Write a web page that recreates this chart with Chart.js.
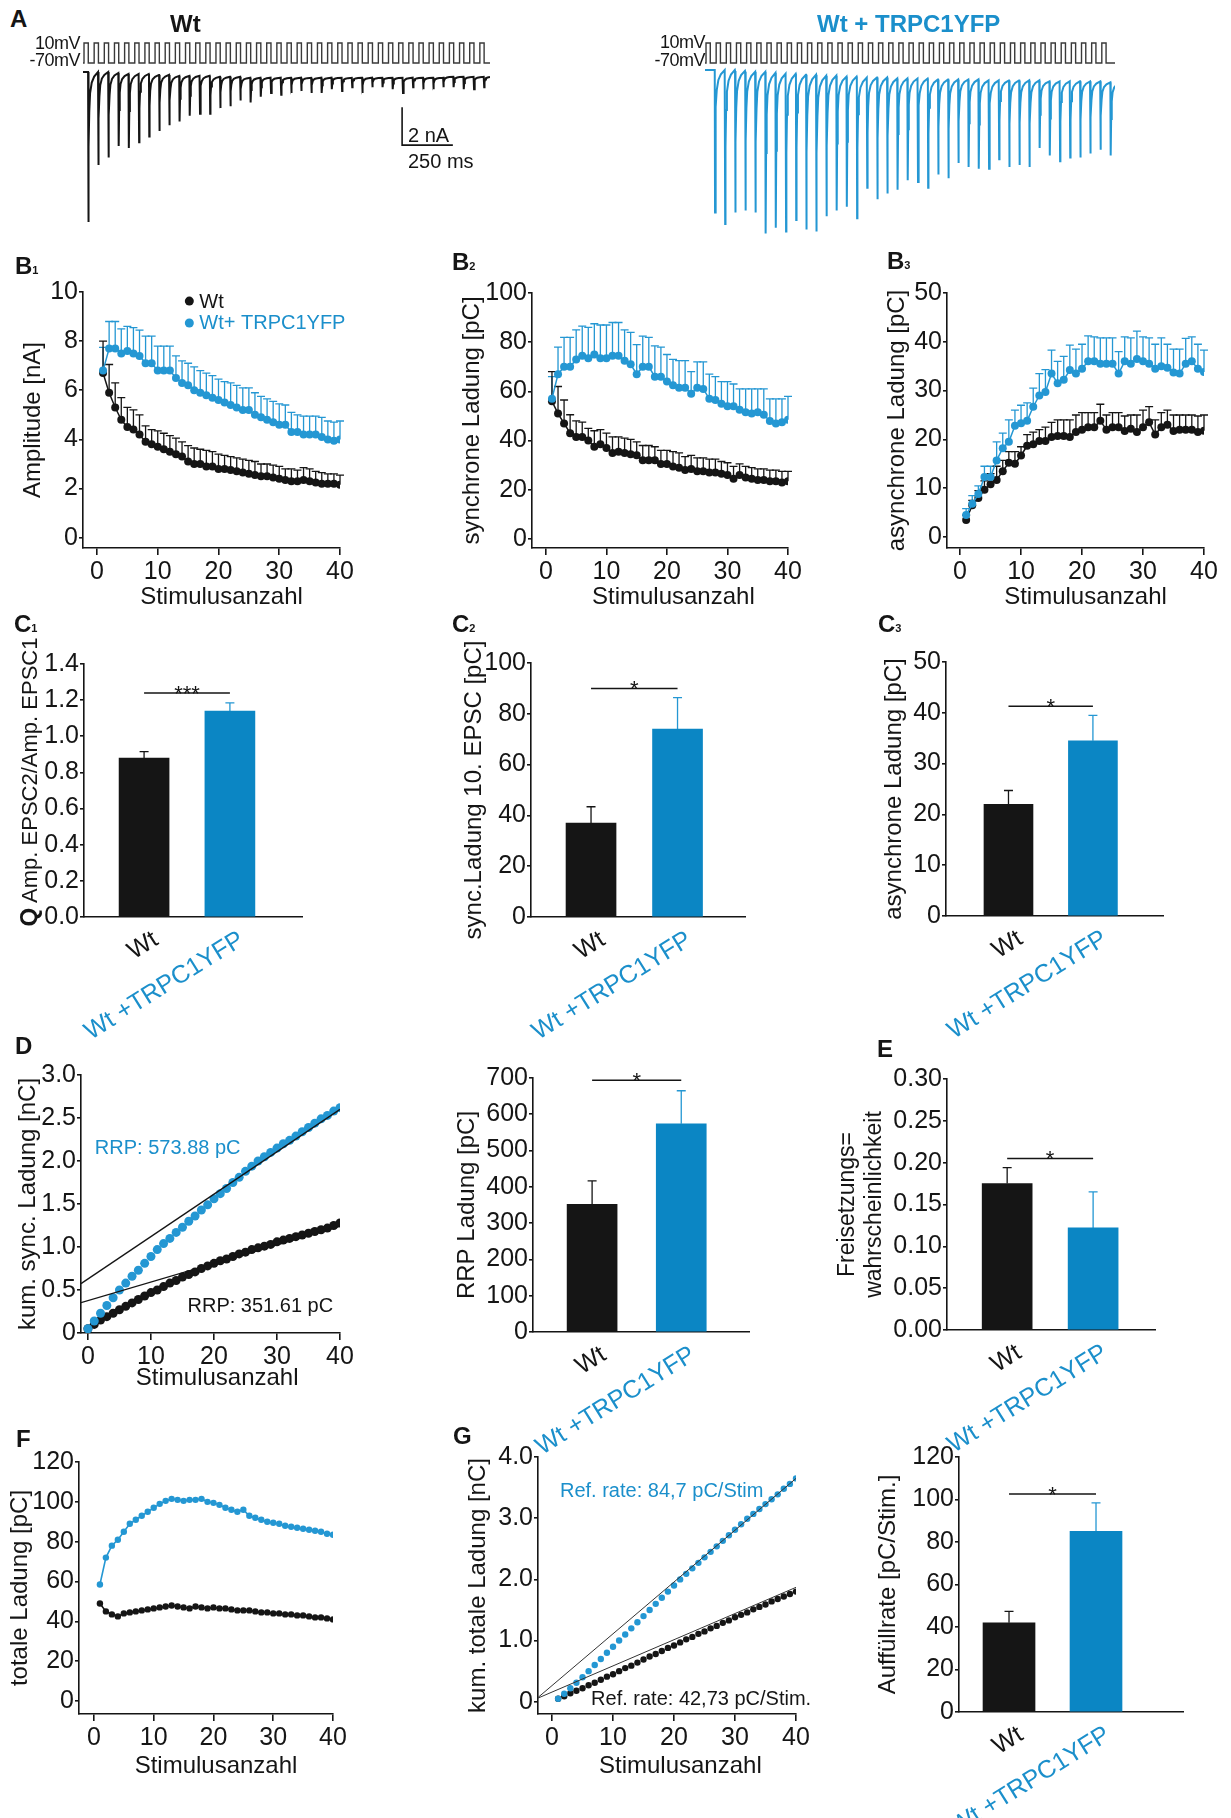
<!DOCTYPE html>
<html>
<head>
<meta charset="utf-8">
<title>EPSC-Zuege Wt / Wt + TRPC1YFP</title>
<script src="https://cdn.jsdelivr.net/npm/chart.js@4.4.1/dist/chart.umd.min.js"></script>
<style>
  body { margin: 0; background: #fff; }
  #page { position: relative; width: 1231px; height: 1818px; overflow: hidden;
          font-family: "Liberation Sans", Arial, Helvetica, sans-serif; color: #151515; }
  #page canvas { position: absolute; }
  .t { position: absolute; white-space: nowrap; line-height: 1; z-index: 5; }
  .p { font-weight: bold; font-size: 24px; }
  .p sub { font-size: 11px; vertical-align: baseline; }
  .mv { font-size: 18px; width: 60px; text-align: right; letter-spacing: -0.5px; }
</style>
</head>
<body>
<div id="page">
  <div class="t p" style="left:10px;top:7px">A</div>
  <div class="t p" style="left:170px;top:12px">Wt</div>
  <div class="t p" style="left:817px;top:12px;color:#1b8fcb">Wt + TRPC1YFP</div>
  <div class="t mv" style="left:20px;top:34px">10mV</div>
  <div class="t mv" style="left:20px;top:51px">-70mV</div>
  <div class="t mv" style="left:645px;top:33px">10mV</div>
  <div class="t mv" style="left:645px;top:51px">-70mV</div>
  <div class="t p" style="left:15px;top:254px">B<sub>1</sub></div>
  <div class="t p" style="left:452px;top:250px">B<sub>2</sub></div>
  <div class="t p" style="left:887px;top:249px">B<sub>3</sub></div>
  <div class="t p" style="left:14px;top:612px">C<sub>1</sub></div>
  <div class="t p" style="left:452px;top:612px">C<sub>2</sub></div>
  <div class="t p" style="left:878px;top:612px">C<sub>3</sub></div>
  <div class="t p" style="left:15px;top:1034px">D</div>
  <div class="t p" style="left:877px;top:1037px">E</div>
  <div class="t p" style="left:16px;top:1427px">F</div>
  <div class="t p" style="left:453px;top:1424px">G</div>
  <div class="t" style="left:-116px;top:769px;width:290px;height:26px;line-height:26px;text-align:center;font-size:22px;transform:rotate(-90deg)"><b style="font-size:24px">Q</b> Amp. EPSC2/Amp. EPSC1</div>
</div>
<script>
// ---------- data ----------
const stimulus = Array.from({length: 40}, (_, i) => i + 1);
const stimulusD = Array.from({length: 41}, (_, i) => i);
const stimTicks = [0, 10, 20, 30, 40];
const groups = ['Wt', 'Wt +TRPC1YFP'];
const groupIndex = [1, 2];
const legendLabels = ['Wt', 'Wt+ TRPC1YFP'];

// A: example traces, EPSC peak [nA] and level between pulses [nA]
const traceWt = [7.9,4.9,4.5,3.9,4.0,3.7,3.4,3.1,2.8,2.6,2.3,2.2,2.2,1.9,1.8,1.5,1.6,1.3,1.1,1.2,
                 1.1,1.0,1.1,1.1,0.9,1.0,0.8,1.1,0.8,0.8,0.9,1.1,0.8,0.9,0.9,0.8,0.8,0.9,0.9,0.8];
const traceWtRest = [0,0,0.05,0.1,0.1,0.1,0.15,0.15,0.2,0.2,0.2,0.2,0.25,0.25,0.25,0.3,0.3,0.3,0.3,0.3,
                     0.3,0.3,0.3,0.3,0.3,0.3,0.3,0.3,0.3,0.3,0.3,0.3,0.3,0.3,0.3,0.25,0.25,0.25,0.25,0.25];
const traceTrpc = [7.5,8.1,7.5,7.4,7.5,8.6,8.3,8.5,7.9,8.4,8.5,7.7,7.4,7.2,7.8,6.2,6.8,6.5,6.3,5.8,
                   5.9,6.2,5.5,5.7,4.9,5.1,5.2,5.2,4.7,5.1,5.0,5.1,4.1,4.5,4.8,4.6,4.6,4.4,4.2,4.5];
const traceTrpcRest = [0,0,0.05,0.1,0.1,0.15,0.2,0.2,0.25,0.25,0.3,0.3,0.35,0.35,0.4,0.4,0.4,0.45,0.45,0.45,
                       0.45,0.5,0.5,0.5,0.5,0.5,0.55,0.55,0.55,0.55,0.55,0.55,0.6,0.6,0.6,0.6,0.6,0.6,0.65,0.65];
const stepLevels = [-70, 10];   // mV
const scaleBar = {nA: 2, ms: 250};

// B1 amplitude [nA]
const b1Wt = [6.7,5.9,5.3,4.8,4.5,4.4,4.2,3.9,3.8,3.7,3.6,3.5,3.4,3.3,3.1,3.0,3.0,2.9,2.9,2.8,
              2.8,2.75,2.7,2.65,2.6,2.55,2.5,2.5,2.45,2.4,2.35,2.3,2.3,2.35,2.3,2.25,2.2,2.2,2.2,2.15];
const b1WtErr = [1.3,1.15,1.0,0.9,0.8,0.8,0.8,0.65,0.6,0.65,0.65,0.65,0.65,0.6,0.65,0.65,0.6,0.65,0.6,0.6,
                 0.55,0.55,0.55,0.55,0.55,0.55,0.5,0.5,0.5,0.5,0.45,0.5,0.45,0.5,0.5,0.45,0.45,0.4,0.4,0.4];
const b1Trpc = [6.8,7.7,7.7,7.5,7.6,7.5,7.4,7.1,7.1,6.8,6.8,6.8,6.5,6.3,6.2,6.0,5.9,5.8,5.7,5.6,
                5.5,5.4,5.3,5.2,5.2,5.0,4.9,4.8,4.7,4.6,4.6,4.3,4.3,4.2,4.2,4.2,4.1,4.0,3.95,4.0];
const b1TrpcErr = [0.95,1.1,1.1,1.0,1.0,1.05,1.05,1.1,1.1,1.0,1.0,1.0,0.9,0.9,0.9,0.95,0.9,0.9,0.9,0.85,
                   0.85,0.9,0.9,0.9,0.9,0.9,0.85,0.85,0.85,0.85,0.8,0.8,0.7,0.75,0.75,0.75,0.8,0.75,0.75,0.75];

// B2 synchronous charge [pC]
const b2Wt = [56,51,47,43,41.5,41.5,40,37.5,38.5,37,35,35.5,35,34.5,34,32,32,32,30.5,30.5,
              29.5,29,28,28.5,27.5,27.5,27,27,26.5,26,24.5,26,25,24.5,24,24,23.5,23.5,23,23.5];
const b2WtErr = [12,11,9.5,7.5,6.5,6,5,6.5,6,6,6.5,6,6,6,5.5,6,6,5.5,5.5,5.5,
                 6,6,5.5,5.5,5.5,5.5,5.5,5.5,5,5,5,4.5,4.5,4.5,4.5,4.5,4.5,4.5,4.5,4];
const b2Trpc = [57,67,70,70,73,74.5,73.5,75,73.5,73.5,74.5,74.5,72.5,71,67,70,70,66,66,64,
                62.5,61.5,61.5,59,61.5,61,57,56.5,55,54,54,52.5,51.5,51,51.5,50.5,48,47,47.5,48.5];
const b2TrpcErr = [9,11,12,12,12,12,12.5,12.5,13.5,13.5,13.5,13.5,12.5,13,12,12.5,12,12.5,12,11,
                   10.5,11,11,9,10.5,11,10,9.5,9,10,9,8.5,9.5,10,9.5,10.5,9,10,9.5,9.5];

// B3 asynchronous charge [pC]
const b3Wt = [3.5,6.5,8,9.7,10.8,11.7,13.5,15.2,15,16.7,18.7,19,19.7,19.7,20.5,20.7,20.7,20.5,21.5,22,
              22.5,22.5,23.8,22,22.5,22.5,21.7,22.2,21.5,22.5,23.5,21,22.5,23,21.7,22,22,22,21.5,21.8];
const b3WtErr = [1,1,1.5,1.8,2.2,2.8,2.2,2.3,2.5,1.8,2.3,2.5,2.3,2.8,3,3.3,3.3,3.5,3.5,3.5,
                 3,3,3.4,3,3,3,3.1,2.8,3.5,3.5,3.2,3,3,3,3.3,3,3,3,3.3,3.2];
const b3Trpc = [4.5,6.8,8.8,12.3,12.3,15.7,18.2,19.5,22.8,23.3,23.8,26.7,29,29.7,33.5,31.5,32.2,34.2,33.5,34.5,
                36,36,35.5,35.5,35.5,33.5,36,35.5,36.5,36,35.5,34.5,35,34.7,33.7,33.5,35.5,36,34.5,33.8];
const b3TrpcErr = [1.3,1.7,1.7,2.2,2.2,3.8,3.1,4.5,3.2,3.7,3.7,3.8,4.5,4.6,4.8,4.5,4.8,5.1,5,5,
                   5.2,5,5.3,5.3,5.3,4.5,5,5.3,5.7,5,5.3,5,5.8,4.8,4.8,5,5.2,5,5,4.5];

// C / E / refill bar values [Wt, Wt+TRPC1YFP] and SEM
const c1Ratio = [0.88, 1.14],  c1Err = [0.035, 0.045];
const c2Sync10 = [37, 74],     c2Err = [6.4, 12.4];
const c3Async = [22, 34.5],    c3Err = [2.7, 5.0];
const rrpCharge = [351.61, 573.88], rrpErr = [65, 91];
const releaseProb = [0.175, 0.122], releaseErr = [0.019, 0.043];
const refillRate = [42, 85],   refillErr = [5.4, 13.4];

// D cumulative synchronous charge [nC], stimulus 0..40
const dWt = [0.05,0.10,0.15,0.19,0.23,0.27,0.31,0.35,0.39,0.43,0.47,0.50,0.54,0.58,0.61,0.65,0.68,0.71,0.75,0.78,
             0.81,0.84,0.86,0.89,0.92,0.94,0.97,0.99,1.01,1.03,1.06,1.08,1.10,1.12,1.14,1.16,1.18,1.20,1.22,1.25,1.28];
const dTrpc = [0.05,0.14,0.23,0.32,0.41,0.50,0.58,0.66,0.73,0.81,0.89,0.97,1.04,1.10,1.17,1.23,1.30,1.36,1.43,1.49,
               1.56,1.62,1.68,1.75,1.81,1.88,1.94,2.00,2.05,2.10,2.15,2.20,2.24,2.29,2.34,2.39,2.44,2.49,2.53,2.58,2.62];
const dFitWt = [0.352, 1.24];     // nC at axis and at stimulus 40
const dFitTrpc = [0.574, 2.60];

// F total charge [pC]
const fWt = [49,45,43.5,42.5,44,44.5,45,45.5,46,46.5,47,47.5,48,47.5,47,46.5,47.5,47,46.5,47,
             46.5,46.5,46,45.5,45.5,45.5,45,44.5,44.5,44,44,43.5,43.5,43,43,42.5,42,42,41.5,41];
const fTrpc = [58.5,72,78,81,85,89,91,93,95,97,99,100.5,101.5,101,100.5,101,101,101.5,100,99.5,
               98.5,97,96,95,96,93,92,91,90,89.5,89,88,87.5,87,86.5,86,85.5,85,84,83.5];

// G cumulative total charge [nC]
const gWt = [0.05,0.09,0.14,0.18,0.22,0.27,0.31,0.36,0.41,0.45,0.50,0.55,0.59,0.64,0.69,0.74,0.78,0.83,0.88,0.92,
             0.97,1.02,1.06,1.11,1.15,1.20,1.24,1.29,1.33,1.38,1.42,1.46,1.51,1.55,1.59,1.64,1.68,1.72,1.76,1.80];
const gTrpc = [0.05,0.13,0.22,0.31,0.40,0.50,0.60,0.70,0.80,0.90,1.00,1.10,1.20,1.30,1.40,1.50,1.60,1.70,1.80,1.90,
               2.00,2.09,2.18,2.27,2.36,2.45,2.54,2.63,2.72,2.81,2.90,2.99,3.07,3.15,3.23,3.31,3.39,3.48,3.56,3.65];
const gFitWt = [0.06, 1.87];
const gFitTrpc = [0.07, 3.65];

// ---------- style ----------
const INK = '#151515';
const BLUE = '#2497d3';
const BLUE_BAR = '#0b86c4';
const BLUE_TXT = '#1b8fcb';
const FONT = '"Liberation Sans", Arial, Helvetica, sans-serif';
const TICK = 25;    // tick label size
const TITLE = 24;   // axis title size
Chart.defaults.font.family = FONT;
Chart.defaults.color = INK;

// error bars, significance bars, free text and legend
const extras = {
  id: 'extras',
  beforeDatasetsDraw(chart) {
    const ctx = chart.ctx;
    chart.data.datasets.forEach((ds, di) => {
      if (!ds.errors) return;
      const meta = chart.getDatasetMeta(di);
      ctx.save();
      ctx.lineWidth = 1.3;
      meta.data.forEach((el, i) => {
        const raw = ds.data[i];
        const v = typeof raw === 'number' ? raw : raw.y;
        const yTop = meta.yScale.getPixelForValue(v + ds.errors[i]);
        const yv = meta.yScale.getPixelForValue(v);
        const hw = ds.capWidth / 2;
        ctx.strokeStyle = Array.isArray(ds.errorColor) ? ds.errorColor[i] : ds.errorColor;
        ctx.beginPath();
        ctx.moveTo(el.x, yv); ctx.lineTo(el.x, yTop);
        ctx.moveTo(el.x - hw, yTop); ctx.lineTo(el.x + hw, yTop);
        ctx.stroke();
      });
      ctx.restore();
    });
  },
  afterDatasetsDraw(chart) {
    const o = chart.canvas.extras || {};
    const {ctx} = chart;
    const x = chart.scales.x, y = chart.scales.y;
    ctx.save();
    if (o.sig) {
      const x1 = x.getPixelForValue(groupIndex[0]), x2 = x.getPixelForValue(groupIndex[1]);
      const yy = y.getPixelForValue(o.sig.level);
      ctx.strokeStyle = INK; ctx.lineWidth = 1.5;
      ctx.beginPath(); ctx.moveTo(x1, yy); ctx.lineTo(x2, yy); ctx.stroke();
      ctx.fillStyle = INK; ctx.font = '22px ' + FONT;
      ctx.textAlign = 'center'; ctx.textBaseline = 'alphabetic';
      ctx.fillText(o.sig.text, (x1 + x2) / 2, yy + 8);
    }
    (o.texts || []).forEach(t => {
      const ys = chart.scales[t.axis || 'y'];
      ctx.fillStyle = t.color || INK;
      ctx.font = (t.size || 20) + 'px ' + FONT;
      ctx.textAlign = 'left'; ctx.textBaseline = 'middle';
      ctx.fillText(t.text, x.getPixelForValue(t.x), ys.getPixelForValue(t.y));
    });
    if (o.legend) {
      const lg = o.legend;
      lg.items.forEach((it, i) => {
        const px = x.getPixelForValue(lg.x), py = y.getPixelForValue(lg.ys[i]);
        ctx.fillStyle = it.color;
        ctx.beginPath(); ctx.arc(px, py, 4.5, 0, Math.PI * 2); ctx.fill();
        ctx.fillStyle = it.textColor;
        ctx.font = '20px ' + FONT; ctx.textAlign = 'left'; ctx.textBaseline = 'middle';
        ctx.fillText(it.label, px + 10, py + 1);
      });
    }
    ctx.restore();
  }
};
Chart.register(extras);

// ---------- helpers ----------
function mkCanvas(box) {
  const c = document.createElement('canvas');
  c.width = box.w; c.height = box.h;
  c.style.left = box.x + 'px'; c.style.top = box.y + 'px';
  c.style.width = box.w + 'px'; c.style.height = box.h + 'px';
  document.getElementById('page').appendChild(c);
  return c;
}

function frame(box, area) {
  return {
    pad: {left: 0, top: area.t - box.y, right: box.x + box.w - area.r, bottom: 0},
    yW: area.l - box.x,
    xH: box.y + box.h - area.b
  };
}

function yAxis(box, area, c) {
  const fr = frame(box, area);
  const fs = c.titleSize || TITLE, lh = c.titleLH || 1.2;
  return {
    type: 'linear', position: 'left', min: c.min, max: c.max,
    afterBuildTicks: s => { s.ticks = c.ticks.map(v => ({value: v})); },
    afterFit: s => { s.width = fr.yW; },
    border: {display: true, color: INK, width: 1.6},
    grid: {display: true, drawOnChartArea: false, drawTicks: true, tickLength: 4, color: INK, lineWidth: 1.6},
    ticks: {font: {size: TICK}, color: INK, padding: 1, callback: c.fmt || (v => String(v))},
    title: {display: !!c.title, text: c.title, color: INK, font: {size: fs, lineHeight: lh},
            padding: {top: c.titleX ? c.titleX - box.x - fs * lh / 2 : 0, bottom: 0}}
  };
}

function xNum(box, area, c) {
  const fr = frame(box, area);
  return {
    type: 'linear', position: 'bottom', min: c.min, max: c.max,
    afterBuildTicks: s => { s.ticks = stimTicks.map(v => ({value: v})); },
    afterFit: s => { s.height = fr.xH; },
    border: {display: true, color: INK, width: 1.6},
    grid: {display: true, drawOnChartArea: false, drawTicks: true, tickLength: 7, color: INK, lineWidth: 1.6},
    ticks: {font: {size: TICK}, color: INK, padding: 2, minRotation: 0, maxRotation: 0, autoSkip: false},
    title: {display: true, text: c.title, color: INK, font: {size: TITLE},
            padding: {top: 0, bottom: box.y + box.h - TITLE * 0.6 - c.titleY}}
  };
}

function xBar(box, area, c) {
  const fr = frame(box, area);
  return {
    type: 'linear', position: 'bottom', min: c.min, max: c.max, offset: false,
    afterBuildTicks: s => { s.ticks = groupIndex.map(v => ({value: v})); },
    afterFit: s => { s.height = fr.xH; },
    border: {display: true, color: INK, width: 1.6},
    grid: {display: false, drawTicks: false},
    ticks: {font: {size: 25}, autoSkip: false, minRotation: 32, maxRotation: 32, padding: 8, labelOffset: 12,
            color: ctx => ctx.index === 0 ? INK : BLUE_TXT, callback: (v, i) => groups[i]}
  };
}

function pts(xs, ys) { return ys.map((v, i) => ({x: xs[i], y: v})); }

function series(xs, ys, color, extra) {
  return Object.assign({
    data: pts(xs, ys), borderColor: color, backgroundColor: color, pointBackgroundColor: color,
    pointBorderWidth: 0, pointRadius: 4, borderWidth: 1.5, showLine: true
  }, extra);
}

function makeChart(box, area, type, datasets, scales, extraCfg) {
  const cv = mkCanvas(box);
  cv.extras = extraCfg || {};
  return new Chart(cv, {
    type, data: {datasets},
    options: {
      responsive: false, animation: false, devicePixelRatio: 1, events: [],
      layout: {padding: frame(box, area).pad, autoPadding: false},
      plugins: {legend: {display: false}, tooltip: {enabled: false}},
      scales
    }
  });
}

function barChart(box, area, values, errors, yc, xc, sig) {
  const ds = {
    data: pts(groupIndex, values), backgroundColor: [INK, BLUE_BAR], borderWidth: 0,
    barThickness: xc.bar,
    errors, errorColor: [INK, BLUE], capWidth: 9
  };
  return makeChart(box, area, 'bar', [ds], {x: xBar(box, area, xc), y: yAxis(box, area, yc)}, {sig});
}

// ---------- A: example traces ----------
const PERIOD = 50;                       // ms, 20 Hz train
const STEP_ON = 5, STEP_OFF = 26;        // ms within each period
const SHAPE_T = [0, 1.5, 3, 6, 10, 18, 30, 49];
const SHAPE_F = [0, 1, 0.5, 0.26, 0.14, 0.07, 0.03, 0];

function stepPoints(n, tMax) {
  const p = [{x: 0, y: stepLevels[0]}];
  for (let i = 0; i < n; i++) {
    const t = i * PERIOD;
    p.push({x: t + STEP_ON, y: stepLevels[0]}, {x: t + STEP_ON, y: stepLevels[1]},
           {x: t + STEP_OFF, y: stepLevels[1]}, {x: t + STEP_OFF, y: stepLevels[0]});
  }
  p.push({x: tMax, y: stepLevels[0]});
  return p;
}

function tracePoints(peaks, rest, spikeAt) {
  const p = [{x: 0, y: 0}];
  peaks.forEach((pk, i) => {
    const t0 = i * PERIOD + spikeAt;
    SHAPE_T.forEach((dt, k) => p.push({x: t0 + dt, y: -(rest[i] + (pk - rest[i]) * SHAPE_F[k])}));
  });
  return p;
}

function traceChart(box, c) {
  const cv = mkCanvas(box);
  cv.extras = {texts: c.texts || []};
  const ds = [
    {data: stepPoints(traceWt.length, c.tMax), yAxisID: 'v', borderColor: '#3a3a3a', borderWidth: 1.4, pointRadius: 0},
    {data: tracePoints(c.peaks, c.rest, c.spikeAt), yAxisID: 'y', borderColor: c.color, borderWidth: 2, pointRadius: 0}
  ];
  if (c.bar) {
    const b = c.bar;
    ds.push({data: [{x: b.t, y: b.i}, {x: b.t, y: b.i - scaleBar.nA}, {x: b.t + scaleBar.ms, y: b.i - scaleBar.nA}],
             yAxisID: 'y', borderColor: INK, borderWidth: 1.6, pointRadius: 0});
  }
  return new Chart(cv, {
    type: 'line', data: {datasets: ds},
    options: {
      responsive: false, animation: false, devicePixelRatio: 1, events: [],
      layout: {padding: 0, autoPadding: false},
      plugins: {legend: {display: false}, tooltip: {enabled: false}},
      scales: {
        x: {type: 'linear', display: false, min: 0, max: c.tMax},
        y: {type: 'linear', display: false, min: c.yMin, max: c.yMax},
        v: {type: 'linear', display: false, min: c.vMin, max: 42}
      }
    }
  });
}

traceChart({x: 83, y: 35, w: 407, h: 200}, {
  peaks: traceWt, rest: traceWtRest, spikeAt: 25, color: INK, tMax: 2005,
  yMin: -8.58, yMax: 1.95, vMin: -758,
  bar: {t: 1572, i: -1.85},
  texts: [{x: 1601, y: -3.37, text: '2 nA', size: 20}, {x: 1601, y: -4.74, text: '250 ms', size: 20}]
});
traceChart({x: 705, y: 35, w: 410, h: 210}, {
  peaks: traceTrpc, rest: traceTrpcRest, spikeAt: 48, color: BLUE, tMax: 2020,
  yMin: -9.21, yMax: 1.84, vMin: -798
});

// ---------- B ----------
function bPanel(box, area, wt, wtErr, tr, trErr, yc, xc, extraCfg) {
  const ds = [
    series(stimulus, tr, BLUE, {errors: trErr, errorColor: BLUE, capWidth: 8, order: 1}),
    series(stimulus, wt, INK, {errors: wtErr, errorColor: INK, capWidth: 8, order: 2})
  ];
  return makeChart(box, area, 'line', ds, {x: xNum(box, area, xc), y: yAxis(box, area, yc)}, extraCfg);
}

{
  const box = {x: 0, y: 270, w: 370, h: 345}, area = {l: 83, t: 292, r: 340, b: 548};
  bPanel(box, area, b1Wt, b1WtErr, b1Trpc, b1TrpcErr,
    {min: -0.42, max: 10, ticks: [0, 2, 4, 6, 8, 10], title: 'Amplitude [nA]', titleX: 33},
    {min: -2.3, max: 40, title: '   Stimulusanzahl', titleY: 597},
    {legend: {x: 15.2, ys: [9.63, 8.74], items: [
      {label: legendLabels[0], color: INK, textColor: INK},
      {label: legendLabels[1], color: BLUE, textColor: BLUE_TXT}]}});
}
{
  const box = {x: 440, y: 270, w: 375, h: 345}, area = {l: 532, t: 293, r: 788, b: 548};
  bPanel(box, area, b2Wt, b2WtErr, b2Trpc, b2TrpcErr,
    {min: -3.66, max: 100, ticks: [0, 20, 40, 60, 80, 100], title: 'synchrone Ladung [pC]', titleX: 472},
    {min: -2.3, max: 40, title: '    Stimulusanzahl', titleY: 597});
}
{
  const box = {x: 860, y: 270, w: 371, h: 345}, area = {l: 947, t: 293, r: 1204, b: 548};
  bPanel(box, area, b3Wt, b3WtErr, b3Trpc, b3TrpcErr,
    {min: -2.25, max: 50, ticks: [0, 10, 20, 30, 40, 50], title: 'asynchrone Ladung [pC]', titleX: 897},
    {min: -2.14, max: 40, title: '   Stimulusanzahl', titleY: 597});
}

// ---------- C ----------
const f1 = v => v.toFixed(1);
barChart({x: 0, y: 640, w: 330, h: 400}, {l: 84, t: 664, r: 302, b: 917}, c1Ratio, c1Err,
  {min: 0, max: 1.4, ticks: [0, 0.2, 0.4, 0.6, 0.8, 1.0, 1.2, 1.4], fmt: f1},
  {min: 0.30, max: 2.84, bar: 50}, {level: 1.24, text: '***'});
barChart({x: 440, y: 640, w: 330, h: 400}, {l: 531, t: 663, r: 745, b: 917}, c2Sync10, c2Err,
  {min: 0, max: 100, ticks: [0, 20, 40, 60, 80, 100], title: 'sync.Ladung 10. EPSC [pC]', titleX: 474},
  {min: 0.306, max: 2.78, bar: 50}, {level: 90, text: '*'});
barChart({x: 860, y: 640, w: 371, h: 400}, {l: 946, t: 662, r: 1163, b: 916}, c3Async, c3Err,
  {min: 0, max: 50, ticks: [0, 10, 20, 30, 40, 50], title: 'asynchrone Ladung [pC]', titleX: 894},
  {min: 0.26, max: 2.83, bar: 49}, {level: 41.3, text: '*'});

// ---------- D ----------
{
  const box = {x: 0, y: 1050, w: 370, h: 350}, area = {l: 81, t: 1075, r: 340, b: 1333};
  const xMin = -1.1;
  const ds = [
    {data: [{x: xMin, y: dFitTrpc[0]}, {x: 40, y: dFitTrpc[1]}], borderColor: INK, borderWidth: 1.3, pointRadius: 0, order: 0},
    {data: [{x: xMin, y: dFitWt[0]}, {x: 40, y: dFitWt[1]}], borderColor: INK, borderWidth: 1.3, pointRadius: 0, order: 0},
    series(stimulusD, dTrpc, BLUE, {showLine: false, pointRadius: 4.5, order: 1}),
    series(stimulusD, dWt, INK, {showLine: false, pointRadius: 4.5, order: 2})
  ];
  makeChart(box, area, 'line', ds, {
    x: xNum(box, area, {min: xMin, max: 40, title: '  Stimulusanzahl', titleY: 1378}),
    y: yAxis(box, area, {min: 0, max: 3, ticks: [0, 0.5, 1, 1.5, 2, 2.5, 3],
      fmt: v => v === 0 ? '0' : v.toFixed(1), title: 'kum. sync. Ladung [nC]', titleX: 28})
  }, {texts: [
    {x: 1.1, y: 2.14, text: 'RRP: ' + rrpCharge[1].toFixed(2) + ' pC', color: BLUE_TXT, size: 20},
    {x: 15.8, y: 0.31, text: 'RRP: ' + rrpCharge[0].toFixed(2) + ' pC', color: INK, size: 20}
  ]});
}

barChart({x: 440, y: 1050, w: 340, h: 412}, {l: 533, t: 1078, r: 749, b: 1332}, rrpCharge, rrpErr,
  {min: 0, max: 700, ticks: [0, 100, 200, 300, 400, 500, 600, 700], title: 'RRP Ladung [pC]', titleX: 467},
  {min: 0.337, max: 2.76, bar: 50}, {level: 694, text: '*'});

// ---------- E ----------
barChart({x: 830, y: 1050, w: 370, h: 412}, {l: 947, t: 1079, r: 1155, b: 1330}, releaseProb, releaseErr,
  {min: 0, max: 0.3, ticks: [0, 0.05, 0.1, 0.15, 0.2, 0.25, 0.3], fmt: v => v.toFixed(2),
   title: ['Freisetzungs=', 'wahrscheinlichkeit'], titleX: 848, titleSize: 23, titleLH: 1.17},
  {min: 0.30, max: 2.72, bar: 50}, {level: 0.205, text: '*'});

// ---------- F ----------
{
  const box = {x: 0, y: 1440, w: 370, h: 350}, area = {l: 79, t: 1462, r: 333, b: 1714};
  const ds = [
    series(stimulus, fTrpc, BLUE, {pointRadius: 3.2, borderWidth: 1.6, order: 1}),
    series(stimulus, fWt, INK, {pointRadius: 3.2, borderWidth: 1.6, order: 2})
  ];
  makeChart(box, area, 'line', ds, {
    x: xNum(box, area, {min: -2.5, max: 40, title: '   Stimulusanzahl', titleY: 1766}),
    y: yAxis(box, area, {min: -6.5, max: 120, ticks: [0, 20, 40, 60, 80, 100, 120], title: 'totale Ladung [pC]', titleX: 20})
  });
}

// ---------- G ----------
{
  const box = {x: 440, y: 1440, w: 380, h: 350}, area = {l: 538, t: 1457, r: 796, b: 1714};
  const xMin = -2.3;
  const ds = [
    {data: [{x: xMin, y: gFitTrpc[0]}, {x: 40, y: gFitTrpc[1]}], borderColor: '#333', borderWidth: 1, pointRadius: 0, order: 0},
    {data: [{x: xMin, y: gFitWt[0]}, {x: 40, y: gFitWt[1]}], borderColor: '#333', borderWidth: 1, pointRadius: 0, order: 0},
    series(stimulus, gTrpc, BLUE, {showLine: false, pointRadius: 3.2, order: 1}),
    series(stimulus, gWt, INK, {showLine: false, pointRadius: 3.2, order: 2})
  ];
  makeChart(box, area, 'line', ds, {
    x: xNum(box, area, {min: xMin, max: 40, title: '    Stimulusanzahl', titleY: 1766}),
    y: yAxis(box, area, {min: -0.2, max: 4, ticks: [0, 1, 2, 3, 4],
      fmt: v => v === 0 ? '0' : v.toFixed(1), title: 'kum. totale Ladung [nC]', titleX: 478})
  }, {texts: [
    {x: 1.3, y: 3.44, text: 'Ref. rate: 84,7 pC/Stim', color: BLUE_TXT, size: 20},
    {x: 6.4, y: 0.03, text: 'Ref. rate: 42,73 pC/Stim.', color: INK, size: 20}
  ]});
}

// ---------- refill rate ----------
barChart({x: 860, y: 1440, w: 371, h: 378}, {l: 959, t: 1457, r: 1183, b: 1712}, refillRate, refillErr,
  {min: 0, max: 120, ticks: [0, 20, 40, 60, 80, 100, 120], title: 'Auffüllrate [pC/Stim.]', titleX: 888},
  {min: 0.425, max: 3.0, bar: 52}, {level: 102.6, text: '*'});
</script>
</body>
</html>
